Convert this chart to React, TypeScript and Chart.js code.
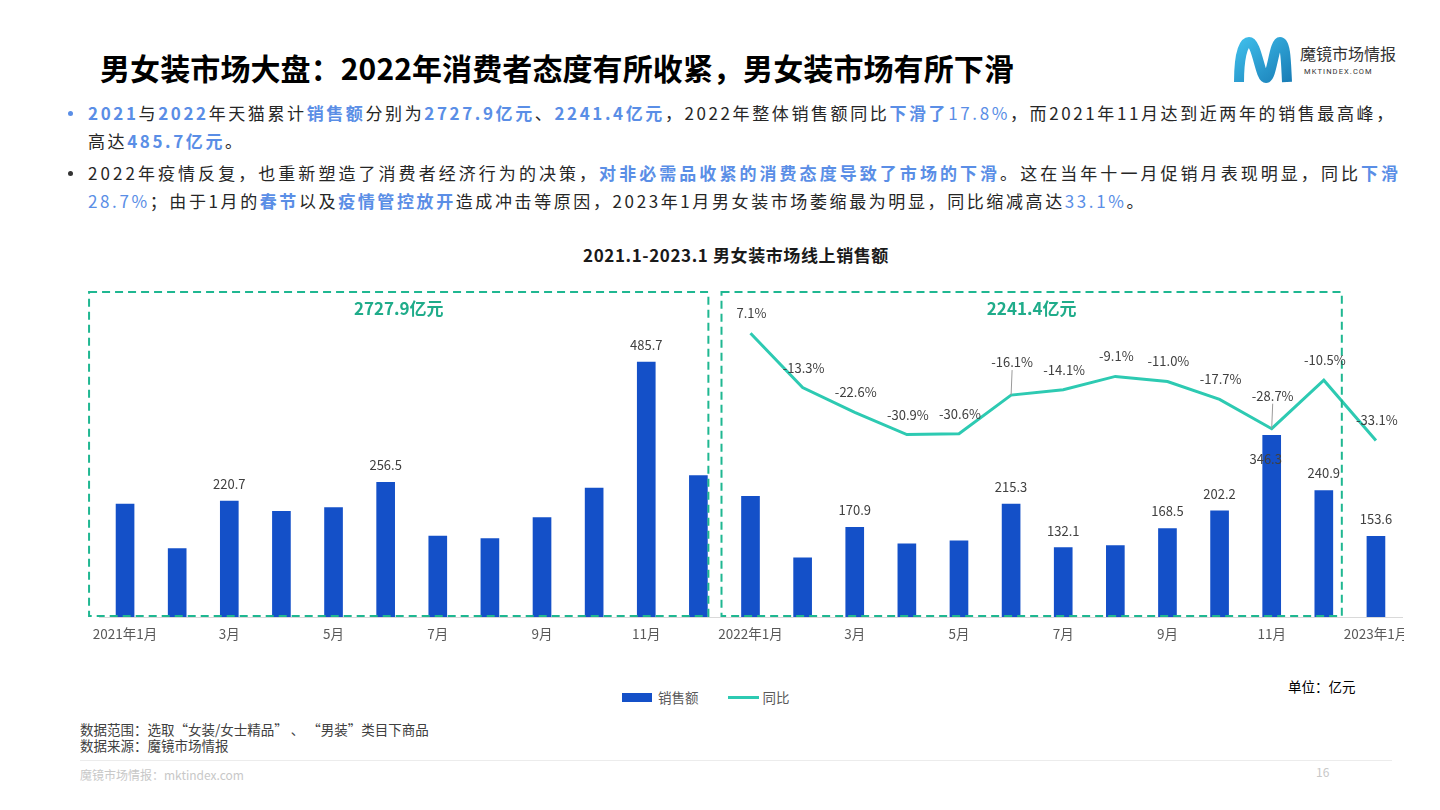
import React, { useEffect, useRef } from 'react';
import { Chart, registerables } from 'chart.js';

Chart.register(...registerables);

// ---------- data ----------
const categories = [
  '2021年1月', '2021年2月', '2021年3月', '2021年4月', '2021年5月', '2021年6月',
  '2021年7月', '2021年8月', '2021年9月', '2021年10月', '2021年11月', '2021年12月',
  '2022年1月', '2022年2月', '2022年3月', '2022年4月', '2022年5月', '2022年6月',
  '2022年7月', '2022年8月', '2022年9月', '2022年10月', '2022年11月', '2022年12月',
  '2023年1月',
];
const tickLabels = [
  '2021年1月', '', '3月', '', '5月', '', '7月', '', '9月', '', '11月', '',
  '2022年1月', '', '3月', '', '5月', '', '7月', '', '9月', '', '11月', '',
  '2023年1月',
];
const salesValues = [
  215.2, 130.2, 220.7, 201.5, 208.5, 256.5, 154.4, 149.3, 189.4, 245.7, 485.7, 269.2,
  230.0, 112.5, 170.9, 139.5, 145.0, 215.3, 132.1, 136.0, 168.5, 202.2, 346.3, 240.9,
  153.6,
];
const yoyValues: (number | null)[] = [
  null, null, null, null, null, null, null, null, null, null, null, null,
  7.1, -13.3, -22.6, -30.9, -30.6, -16.1, -14.1, -9.1, -11.0, -17.7, -28.7, -10.5,
  -33.1,
];
const labeledBars = [2, 5, 10, 14, 17, 18, 20, 21, 22, 23, 24];
const yearTotals = ['2727.9亿元', '2241.4亿元'];
const seriesNames = ['销售额', '同比'];

const BAR_COLOR = '#1450c8';
const LINE_COLOR = '#2dcab2';
const BOX_COLOR = '#1fb791';
const FONT = '"Noto Sans CJK SC", "Noto Sans", sans-serif';

// ---------- plugin ----------
const overlayPlugin = {
  id: 'overlay',
  afterDatasetsDraw(chart: any) {
    const ctx = chart.ctx;
    const x = chart.scales.x;
    const area = chart.chartArea;
    // dashed year boxes
    const boxes = [
      { l: x.getPixelForValue(0) - 36, r: x.getPixelForValue(11) + 10, text: yearTotals[0] },
      { l: x.getPixelForValue(12) - 29, r: x.getPixelForValue(23) + 18, text: yearTotals[1] },
    ];
    const top = area.top + 2;
    const bottom = area.bottom - 1;
    ctx.save();
    ctx.strokeStyle = BOX_COLOR;
    ctx.lineWidth = 2;
    ctx.setLineDash([8, 5]);
    boxes.forEach((b) => {
      ctx.strokeRect(b.l, top, b.r - b.l, bottom - top);
    });
    ctx.setLineDash([]);
    ctx.fillStyle = '#1fac8a';
    ctx.font = `bold 17px ${FONT}`;
    ctx.textAlign = 'center';
    ctx.textBaseline = 'middle';
    boxes.forEach((b) => {
      ctx.fillText(b.text, (b.l + b.r) / 2, top + 17);
    });

    // bar labels
    const barMeta = chart.getDatasetMeta(1);
    ctx.font = `13px ${FONT}`;
    ctx.fillStyle = '#404040';
    labeledBars.forEach((i) => {
      const el = barMeta.data[i];
      const v = salesValues[i];
      const y = i === 22 ? el.y + 24 : el.y - 17;
      ctx.fillText(v.toFixed(1), el.x - (i === 22 ? 6 : 0), y);
    });

    // line labels
    const lineMeta = chart.getDatasetMeta(0);
    const leaders = [17, 22];
    yoyValues.forEach((v, i) => {
      if (v === null) return;
      const el = lineMeta.data[i];
      const lead = leaders.includes(i);
      const ly = lead ? el.y - 33 : el.y - 20;
      if (lead) {
        ctx.strokeStyle = '#9a9a9a';
        ctx.lineWidth = 1;
        ctx.beginPath();
        ctx.moveTo(el.x + 1, ly + 8);
        ctx.lineTo(el.x, el.y);
        ctx.stroke();
      }
      ctx.fillStyle = '#404040';
      ctx.fillText(`${v.toFixed(1)}%`, el.x + 1, ly);
    });
    ctx.restore();
  },
};

function SalesChart() {
  const ref = useRef<HTMLCanvasElement>(null);
  useEffect(() => {
    if (!ref.current) return;
    const chart = new Chart(ref.current, {
      type: 'bar',
      data: {
        labels: categories,
        datasets: [
          {
            type: 'line',
            label: seriesNames[1],
            data: yoyValues,
            yAxisID: 'y1',
            borderColor: LINE_COLOR,
            backgroundColor: LINE_COLOR,
            borderWidth: 3,
            pointRadius: 0,
            tension: 0,
            order: 0,
          } as any,
          {
            type: 'bar',
            label: seriesNames[0],
            data: salesValues,
            yAxisID: 'y',
            backgroundColor: BAR_COLOR,
            barThickness: 18,
            order: 1,
          },
        ],
      },
      options: {
        animation: false,
        responsive: false,
        layout: { padding: { left: 39, right: 38, top: 10, bottom: 3.8 } },
        plugins: {
          legend: { display: false },
          tooltip: { enabled: false },
          title: { display: false },
        },
        scales: {
          x: {
            offset: true,
            grid: { display: false, drawTicks: false },
            border: { display: true, color: '#d9d9d9', width: 1 },
            ticks: {
              autoSkip: false,
              maxRotation: 0,
              padding: 9,
              color: '#595959',
              font: { size: 13.5, family: FONT },
              callback: (_v: any, i: number) => tickLabels[i],
            },
          },
          y: { display: false, min: 0, max: 623 },
          y1: { display: false, min: -99.3, max: 23.3 },
        },
      },
      plugins: [overlayPlugin],
    });
    return () => chart.destroy();
  }, []);
  return (
    <div style={{ position: 'absolute', left: 60, top: 280, width: 1344, height: 375, overflow: 'hidden' }}>
      <canvas ref={ref} width={1380} height={375} style={{ display: 'block' }} />
    </div>
  );
}

const HB = ({ children }: any) => (
  <span style={{ color: '#5a8ee6', fontWeight: 700 }}>{children}</span>
);
const HR = ({ children }: any) => <span style={{ color: '#5a8ee6' }}>{children}</span>;

function Logo() {
  return (
    <div style={{ position: 'absolute', left: 1230, top: 34, width: 180, height: 56 }}>
      <svg width="64" height="54" viewBox="0 0 64 54" style={{ position: 'absolute', left: 0, top: 0 }}>
        <defs>
          <linearGradient id="lg" x1="0" y1="0" x2="1" y2="1">
            <stop offset="0" stopColor="#3dbbe8" />
            <stop offset="1" stopColor="#1a7fb8" />
          </linearGradient>
        </defs>
        <path
          d="M 9 48 C 9 28, 12 8, 19 8 C 27 8, 30 44, 36 44 C 42 44, 44 8, 50 8 C 56 8, 56 30, 57 48"
          fill="none"
          stroke="url(#lg)"
          strokeWidth="10"
          strokeLinecap="butt"
        />
      </svg>
      <div style={{ position: 'absolute', left: 70, top: 9, fontSize: 16, color: '#333', fontFamily: FONT, lineHeight: '20px', whiteSpace: 'nowrap' }}>
        魔镜市场情报
      </div>
      <div style={{ position: 'absolute', left: 74, top: 33, fontSize: 7.5, color: '#333', fontFamily: 'Roboto, sans-serif', letterSpacing: 1.1, lineHeight: '9px', whiteSpace: 'nowrap' }}>
        MKTINDEX.COM
      </div>
    </div>
  );
}

export default function App() {
  const line: any = {
    position: 'absolute',
    left: 88,
    fontSize: 17,
    lineHeight: '28px',
    letterSpacing: 2.6,
    color: '#262626',
    whiteSpace: 'nowrap',
    fontFamily: FONT,
  };
  const dot = (top: number, color: string): any => ({
    position: 'absolute',
    left: 68,
    top,
    width: 5,
    height: 5,
    borderRadius: 3,
    background: color,
  });
  return (
    <div style={{ position: 'absolute', left: 0, top: 0, width: 1440, height: 810, overflow: 'hidden', background: '#fff', fontFamily: FONT }}>
      <div style={{ position: 'absolute', left: 100, top: 48, fontSize: 30, fontWeight: 700, color: '#000', lineHeight: '38px', letterSpacing: 0.1, whiteSpace: 'nowrap' }}>
        男女装市场大盘：2022年消费者态度有所收紧，男女装市场有所下滑
      </div>
      <Logo />

      <div style={dot(111, '#5a8ee6')} />
      <div style={{ ...line, top: 99 }}>
        <HB>2021</HB>与<HB>2022</HB>年天猫累计<HB>销售额</HB>分别为<HB>2727.9亿元</HB>、<HB>2241.4亿元</HB>，2022年整体销售额同比<HB>下滑了</HB><HR>17.8%</HR>，而2021年11月达到近两年的销售最高峰，
      </div>
      <div style={{ ...line, top: 127 }}>
        高达<HB>485.7亿元</HB>。
      </div>
      <div style={dot(171, '#333')} />
      <div style={{ ...line, top: 159, letterSpacing: 3.05 }}>
        2022年疫情反复，也重新塑造了消费者经济行为的决策，<HB>对非必需品收紧的消费态度导致了市场的下滑</HB>。这在当年十一月促销月表现明显，同比<HB>下滑</HB>
      </div>
      <div style={{ ...line, top: 187 }}>
        <HR>28.7%</HR>；由于1月的<HB>春节</HB>以及<HB>疫情管控放开</HB>造成冲击等原因，2023年1月男女装市场萎缩最为明显，同比缩减高达<HR>33.1%</HR>。
      </div>

      <div style={{ position: 'absolute', left: 436, width: 600, top: 243, textAlign: 'center', fontSize: 17, fontWeight: 700, letterSpacing: 0.6, color: '#1a1a1a', lineHeight: '24px' }}>
        2021.1-2023.1 男女装市场线上销售额
      </div>

      <SalesChart />

      <div style={{ position: 'absolute', left: 622, top: 689, height: 16, display: 'flex', alignItems: 'center', fontSize: 13.5, color: '#595959', whiteSpace: 'nowrap' }}>
        <span style={{ display: 'inline-block', width: 30, height: 9, background: BAR_COLOR, marginRight: 6 }} />
        <span>{seriesNames[0]}</span>
        <span style={{ display: 'inline-block', width: 31, height: 3, background: LINE_COLOR, marginLeft: 29, marginRight: 4 }} />
        <span>{seriesNames[1]}</span>
      </div>
      <div style={{ position: 'absolute', left: 1288, top: 677, fontSize: 13.5, color: '#000', lineHeight: '18px', whiteSpace: 'nowrap' }}>
        单位：亿元
      </div>

      <div style={{ position: 'absolute', left: 80, top: 721, fontSize: 13.5, color: '#404040', lineHeight: '16px', whiteSpace: 'nowrap' }}>
        数据范围：选取“女装/女士精品” 、 “男装”类目下商品
        <br />
        数据来源：魔镜市场情报
      </div>
      <div style={{ position: 'absolute', left: 80, top: 760, width: 1312, height: 1, background: '#ececec' }} />
      <div style={{ position: 'absolute', left: 80, top: 767, fontSize: 12, color: '#c8c8c8', lineHeight: '16px', whiteSpace: 'nowrap' }}>
        魔镜市场情报：mktindex.com
      </div>
      <div style={{ position: 'absolute', left: 1316, top: 764, fontSize: 12, color: '#c8c8c8', lineHeight: '16px' }}>
        16
      </div>
    </div>
  );
}
